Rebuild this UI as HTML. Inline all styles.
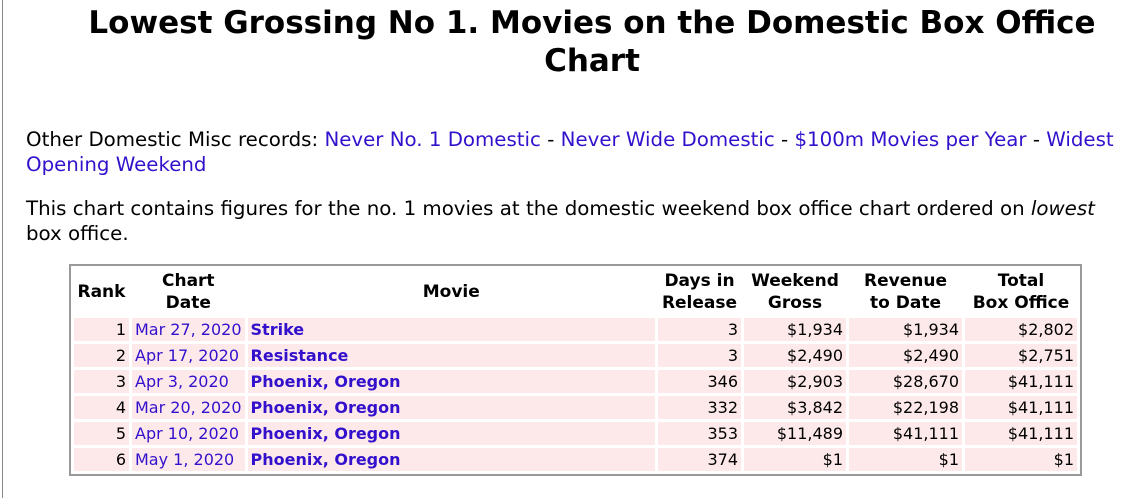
<!DOCTYPE html>
<html><head><style>
body{margin:0;width:1140px;height:451px;overflow:hidden;background:#fff;font-family:"DejaVu Sans",Verdana,sans-serif;color:#000}
.frame{position:absolute;left:2px;top:-2px;width:1200px;height:500px;border-left:1px solid #888}
.wrap{position:absolute;left:26px;top:0;width:1092px}
h1{font-size:31px;text-align:center;margin:4px 0 0;line-height:38px;font-weight:bold;padding:0 0 0 40px}
p{font-size:19.8px;line-height:25px;margin:0}
a{color:#3311cc;text-decoration:none}
table{position:absolute;left:43px;top:264px;width:1013px;border:2px solid #999;border-spacing:3px 3px;font-size:16px}
th{font-weight:bold;line-height:22px;padding:1px 2px;vertical-align:middle;font-size:17px}
td{background:#fde9ea;height:23px;padding:0 3px;line-height:23px;white-space:nowrap}
td.r{text-align:right}
td b a{font-weight:bold}
</style></head><body>
<div class="frame"></div>
<div class="wrap">
<h1>Lowest Grossing No 1. Movies on the Domestic Box Office Chart</h1>
<p style="margin-top:47px">Other Domestic Misc records: <a>Never No. 1 Domestic</a> - <a>Never Wide Domestic</a> - <a>$100m Movies per Year</a> - <a>Widest Opening Weekend</a></p>
<p style="margin-top:19px">This chart contains figures for the no. 1 movies at the domestic weekend box office chart ordered on <i>lowest</i> box office.</p>
<table>
<tr><th style="width:51px">Rank</th><th style="width:103px">Chart<br>Date</th><th>Movie</th><th style="width:79px">Days in<br>Release</th><th style="width:98px">Weekend<br>Gross</th><th style="width:109px">Revenue<br>to Date</th><th style="width:108px">Total<br>Box Office</th></tr>
<tr><td class="r">1</td><td><a>Mar 27, 2020</a></td><td><b><a>Strike</a></b></td><td class="r">3</td><td class="r">$1,934</td><td class="r">$1,934</td><td class="r">$2,802</td></tr>
<tr><td class="r">2</td><td><a>Apr 17, 2020</a></td><td><b><a>Resistance</a></b></td><td class="r">3</td><td class="r">$2,490</td><td class="r">$2,490</td><td class="r">$2,751</td></tr>
<tr><td class="r">3</td><td><a>Apr 3, 2020</a></td><td><b><a>Phoenix, Oregon</a></b></td><td class="r">346</td><td class="r">$2,903</td><td class="r">$28,670</td><td class="r">$41,111</td></tr>
<tr><td class="r">4</td><td><a>Mar 20, 2020</a></td><td><b><a>Phoenix, Oregon</a></b></td><td class="r">332</td><td class="r">$3,842</td><td class="r">$22,198</td><td class="r">$41,111</td></tr>
<tr><td class="r">5</td><td><a>Apr 10, 2020</a></td><td><b><a>Phoenix, Oregon</a></b></td><td class="r">353</td><td class="r">$11,489</td><td class="r">$41,111</td><td class="r">$41,111</td></tr>
<tr><td class="r">6</td><td><a>May 1, 2020</a></td><td><b><a>Phoenix, Oregon</a></b></td><td class="r">374</td><td class="r">$1</td><td class="r">$1</td><td class="r">$1</td></tr>
</table>
</div>
</body></html>
